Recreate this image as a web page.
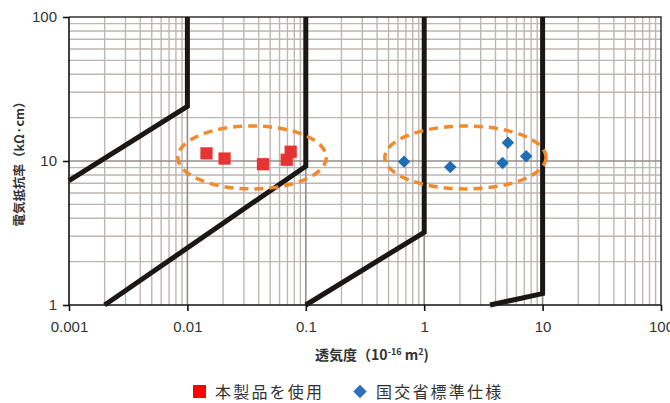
<!DOCTYPE html>
<html>
<head>
<meta charset="utf-8">
<script src="https://cdn.jsdelivr.net/npm/d3@7"></script>
<style>
  body { margin: 0; background: #fff; }
  .tickText { font-family: "Liberation Sans", Arial, sans-serif; font-size: 15px; fill: #333; }
  .aTitle { font-family: "Noto Sans CJK JP", "Liberation Sans", sans-serif; font-weight: bold; fill: #333; }
  .legText { font-family: "Noto Sans CJK JP", sans-serif; font-size: 16px; fill: #333; letter-spacing: 2.2px; }
</style>
</head>
<body>
<div id="chart"></div>
<script>
// Tick values for both axes
var xTicks = [0.001, 0.01, 0.1, 1, 10, 100];
var yTicks = [1, 10, 100];
var xTickLabels = ["0.001", "0.01", "0.1", "1", "10", "100"];
var yTickLabels = ["1", "10", "100"];

// Boundary lines (permeability, resistivity)
var line1 = [[0.001, 7.3], [0.01, 24], [0.01, 100]];
var line2 = [[0.002, 1], [0.1, 9.2], [0.1, 100]];
var line3 = [[0.1, 1], [1, 3.2], [1, 100]];
var line4 = [[3.6, 1], [10, 1.2], [10, 100]];

// 本製品を使用 (red squares)
var productX = [0.0145, 0.0206, 0.0435, 0.069, 0.0745];
var productY = [11.3, 10.4, 9.5, 10.2, 11.6];

// 国交省標準仕様 (blue diamonds)
var standardX = [0.676, 1.66, 4.59, 5.09, 7.27];
var standardY = [9.9, 9.1, 9.7, 13.4, 10.8];

// Dashed ellipse bounds in data units [xMin, xMax, yMin, yMax]
var ellipse1 = [0.0083, 0.149, 6.4, 17.5];
var ellipse2 = [0.465, 10.7, 6.4, 17.5];

var legendNames = ["本製品を使用", "国交省標準仕様"];

// Chart size and margins
var width = 670;
var height = 403;
var margin = { top: 17, right: 9, bottom: 98, left: 69 };

var svg = d3
  .select("#chart")
  .append("svg")
  .attr("width", width)
  .attr("height", height);

// Log scales
var xScale = d3
  .scaleLog()
  .domain([0.001, 100])
  .range([margin.left, width - margin.right]);
var yScale = d3
  .scaleLog()
  .domain([1, 100])
  .range([height - margin.bottom, margin.top]);

var x0 = margin.left;
var x1 = width - margin.right;
var y0 = height - margin.bottom;
var y1 = margin.top;

// Build minor grid values (2..9 of each decade)
function minorVals(ticks) {
  var vals = [];
  for (var i = 0; i < ticks.length - 1; i++) {
    for (var k = 2; k <= 9; k++) {
      vals.push(ticks[i] * k);
    }
  }
  return vals;
}

var grid = svg.append("g").attr("class", "grid");

// Minor grid lines
grid
  .selectAll("line.xMinor")
  .data(minorVals(xTicks))
  .enter()
  .append("line")
  .attr("x1", function(d) { return xScale(d); })
  .attr("x2", function(d) { return xScale(d); })
  .attr("y1", y0)
  .attr("y2", y1)
  .attr("stroke", "#bdb6b3")
  .attr("stroke-width", 1.4);
grid
  .selectAll("line.yMinor")
  .data(minorVals(yTicks))
  .enter()
  .append("line")
  .attr("x1", x0)
  .attr("x2", x1)
  .attr("y1", function(d) { return yScale(d); })
  .attr("y2", function(d) { return yScale(d); })
  .attr("stroke", "#bdb6b3")
  .attr("stroke-width", 1.4);

// Major grid lines
grid
  .selectAll("line.xMajor")
  .data(xTicks.slice(1, -1))
  .enter()
  .append("line")
  .attr("x1", function(d) { return xScale(d); })
  .attr("x2", function(d) { return xScale(d); })
  .attr("y1", y0)
  .attr("y2", y1)
  .attr("stroke", "#948d8a")
  .attr("stroke-width", 1.6);
grid
  .selectAll("line.yMajor")
  .data(yTicks.slice(1, -1))
  .enter()
  .append("line")
  .attr("x1", x0)
  .attr("x2", x1)
  .attr("y1", function(d) { return yScale(d); })
  .attr("y2", function(d) { return yScale(d); })
  .attr("stroke", "#948d8a")
  .attr("stroke-width", 1.6);

// Frame top and right
svg
  .append("path")
  .attr("d", "M" + x0 + "," + y1 + "H" + x1 + "V" + y0)
  .attr("fill", "none")
  .attr("stroke", "#333")
  .attr("stroke-width", 1.5);

// Axes
var xAxis = d3
  .axisBottom(xScale)
  .tickValues(xTicks)
  .tickFormat(function(d, i) { return xTickLabels[i]; })
  .tickSize(6)
  .tickPadding(10);
var yAxis = d3
  .axisLeft(yScale)
  .tickValues(yTicks)
  .tickFormat(function(d, i) { return yTickLabels[i]; })
  .tickSize(6)
  .tickPadding(6);

var gx = svg
  .append("g")
  .attr("transform", "translate(0," + y0 + ")")
  .call(xAxis);
var gy = svg
  .append("g")
  .attr("transform", "translate(" + x0 + ",0)")
  .call(yAxis);

[gx, gy].forEach(function(g) {
  g.select(".domain").attr("stroke", "#111").attr("stroke-width", 1.6);
  g.selectAll(".tick line").attr("stroke", "#111").attr("stroke-width", 1.6);
  g.selectAll(".tick text")
    .attr("class", "tickText")
    .attr("font-size", null)
    .attr("font-family", null);
  g.attr("font-size", null).attr("font-family", null);
});
gx.select(".domain").attr("d", "M" + x0 + ",0H" + x1);
gy.select(".domain").attr("d", "M0," + y0 + "V" + y1);

// Boundary lines
var lineGen = d3
  .line()
  .x(function(d) { return xScale(d[0]); })
  .y(function(d) { return yScale(d[1]); });

svg
  .selectAll("path.boundary")
  .data([line1, line2, line3, line4])
  .enter()
  .append("path")
  .attr("class", "boundary")
  .attr("d", lineGen)
  .attr("fill", "none")
  .attr("stroke", "#1a1716")
  .attr("stroke-width", 5)
  .attr("stroke-linejoin", "miter");

// Dashed ellipses
svg
  .selectAll("ellipse.group")
  .data([ellipse1, ellipse2])
  .enter()
  .append("ellipse")
  .attr("cx", function(d) { return (xScale(d[0]) + xScale(d[1])) / 2; })
  .attr("cy", function(d) { return (yScale(d[2]) + yScale(d[3])) / 2; })
  .attr("rx", function(d) { return (xScale(d[1]) - xScale(d[0])) / 2; })
  .attr("ry", function(d) { return (yScale(d[2]) - yScale(d[3])) / 2; })
  .attr("fill", "none")
  .attr("stroke", "#f08a2c")
  .attr("stroke-width", 3.5)
  .attr("stroke-dasharray", "9,6");

// Red squares
var squareSym = d3.symbol().type(d3.symbolSquare).size(150);
svg
  .selectAll("path.product")
  .data(d3.zip(productX, productY))
  .enter()
  .append("path")
  .attr("class", "product")
  .attr("d", squareSym)
  .attr("transform", function(d) {
    return "translate(" + xScale(d[0]) + "," + yScale(d[1]) + ")";
  })
  .attr("fill", "#e83333");

// Blue diamonds
var diamondSym = d3.symbol().type(d3.symbolSquare).size(78);
svg
  .selectAll("path.standard")
  .data(d3.zip(standardX, standardY))
  .enter()
  .append("path")
  .attr("class", "standard")
  .attr("d", diamondSym)
  .attr("transform", function(d) {
    return "translate(" + xScale(d[0]) + "," + yScale(d[1]) + ") rotate(45)";
  })
  .attr("fill", "#1f6db3");

// Axis titles
var xTitle = svg
  .append("text")
  .attr("class", "aTitle")
  .attr("x", (x0 + x1) / 2 + 7)
  .attr("y", 360)
  .attr("text-anchor", "middle")
  .attr("font-size", 14);
xTitle.append("tspan").text("透気度（10");
xTitle.append("tspan").attr("dy", -5).attr("font-size", 9).text("-16");
xTitle.append("tspan").attr("dy", 5).text(" m");
xTitle.append("tspan").attr("dy", -5).attr("font-size", 9).text("2");
xTitle.append("tspan").attr("dy", 5).text(")");

svg
  .append("text")
  .attr("class", "aTitle")
  .attr("transform", "translate(24," + (y0 + y1) / 2 + ") rotate(-90)")
  .attr("text-anchor", "middle")
  .attr("font-size", 12.5)
  .text("電気抵抗率（kΩ·cm）");

// Legend
var legend = svg.append("g").attr("class", "legend");
legend
  .append("rect")
  .attr("x", 193)
  .attr("y", 385)
  .attr("width", 13)
  .attr("height", 13)
  .attr("fill", "#ff0000");
legend
  .append("text")
  .attr("class", "legText")
  .attr("x", 215)
  .attr("y", 397.5)
  .text(legendNames[0]);
legend
  .append("path")
  .attr("d", d3.symbol().type(d3.symbolSquare).size(90))
  .attr("transform", "translate(360,391.5) rotate(45)")
  .attr("fill", "#2e6fc0");
legend
  .append("text")
  .attr("class", "legText")
  .attr("x", 376)
  .attr("y", 397.5)
  .text(legendNames[1]);
</script>
</body>
</html>
